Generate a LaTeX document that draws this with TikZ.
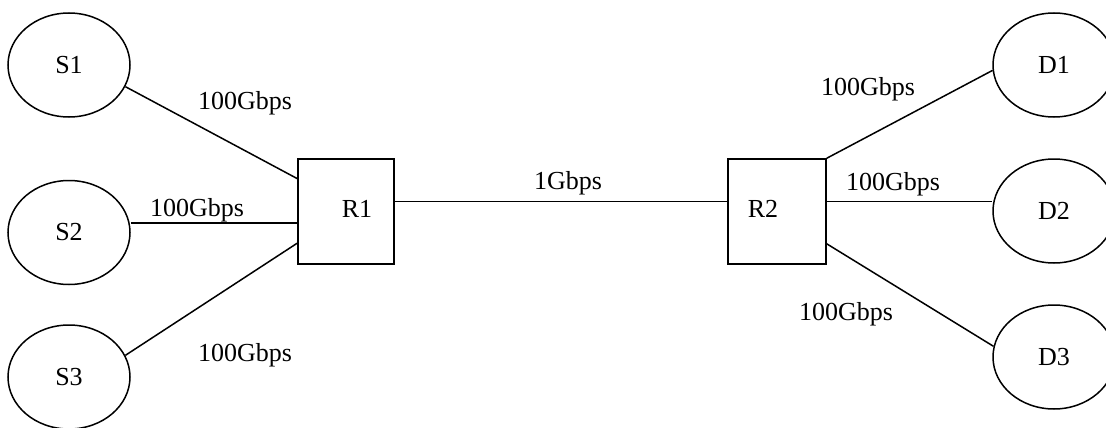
\documentclass[tikz,border=0pt]{standalone}
\usepackage{fontspec}
\setmainfont{Liberation Serif}
\usetikzlibrary{shapes.geometric}
\tikzset{
	host/.style={draw, ellipse, line width=1.5pt, minimum width=122pt, minimum height=104pt, inner sep=0pt},
	router/.style={draw, rectangle, line width=1.5pt, minimum width=96pt, minimum height=105pt, inner sep=0pt},
	link/.style={line width=1.5pt},
	rate/.style={inner sep=0pt}
}

\begin{document}
\begin{tikzpicture}[x=1pt, y=-1pt, font=\fontsize{26}{30}\selectfont]
			%%%%% START %%%%%
			\useasboundingbox (0, 0) rectangle (1106, 428);
			
			\node[host] (S1) at (69, 65) {S1};
			\node[host] (S2) at (69, 232.5) {S2};
			\node[host] (S3) at (69, 377) {S3};
			
			\node[router, label={[xshift=11pt, yshift=3pt]center:R1}] (R1) at (346, 211.5) {};
			\node[router, minimum width=98pt, label={[xshift=-14pt, yshift=3pt]center:R2}] (R2) at (777, 211.5) {};
			
			\node[host] (D1) at (1054, 65) {D1};
			\node[host] (D2) at (1054, 211) {D2};
			\node[host] (D3) at (1054, 357) {D3};
			
			\draw[link] (S1.-21) -- (R1.146);
			\draw[link] (R1.193 -| S2.east) -- (R1.193);
			\draw[link] (S3.21) -- (R1.213);
			
			\draw[link] ([yshift=10pt]R1.east) -- ([yshift=10pt]R2.west);
			
			\draw[link] (R2.north east) -- (D1.185);
			\draw[link] ([yshift=10pt]R2.east) -- ([yshift=10pt]R2.east -| D2.west);
			\draw[link] (R2.-33) -- (D3.170);
			
			\node[rate] (rS1) at (245, 103) {100Gbps};
			\node[rate] (rS2) at (197, 210) {100Gbps};
			\node[rate] (rS3) at (245, 355) {100Gbps};
			\node[rate] (rR) at (568, 183) {1Gbps};
			\node[rate] (rD1) at (868, 89) {100Gbps};
			\node[rate] (rD2) at (893, 184) {100Gbps};
			\node[rate] (rD3) at (846, 314) {100Gbps};
			
			%%%%% END %%%%%
\end{tikzpicture}
\end{document}
